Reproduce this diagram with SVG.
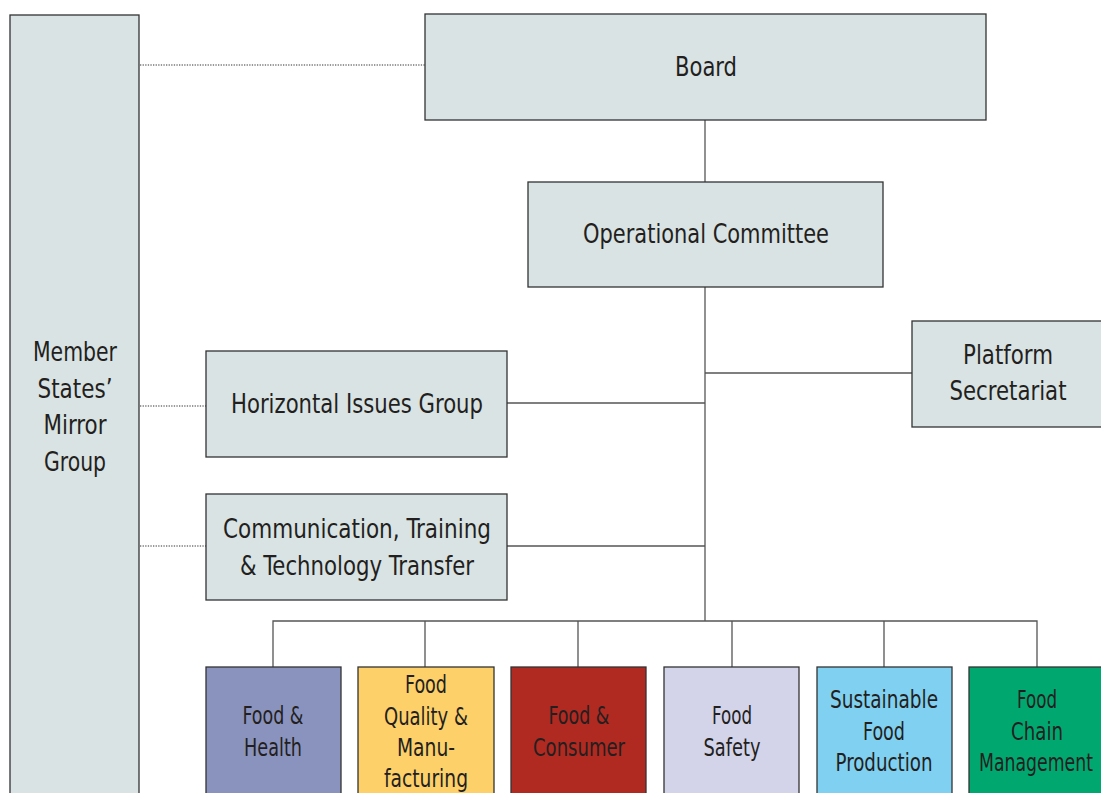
<svg xmlns="http://www.w3.org/2000/svg" width="1101" height="793" viewBox="0 0 1101 793">
<style>
.box{stroke:#333;stroke-width:1.3}
.grey{fill:#d9e3e3}
.t{font-family:"DejaVu Sans Condensed","Liberation Sans Narrow","Liberation Sans",sans-serif;fill:#231f20;text-anchor:middle;dominant-baseline:central}
.big{font-size:27px}
.sm{font-size:24px}
.ln{stroke:#555;stroke-width:1.3;fill:none}
.dot{stroke:#777;stroke-width:1.3;stroke-dasharray:1.3 1.3;fill:none}
</style>
<rect width="1101" height="793" fill="#fff"/>
<g id="connectors">
<line class="dot" x1="140" y1="65" x2="425" y2="65"/>
<line class="dot" x1="140" y1="406" x2="206" y2="406"/>
<line class="dot" x1="140" y1="546" x2="206" y2="546"/>
<line class="ln" x1="705" y1="120" x2="705" y2="182"/>
<line class="ln" x1="705" y1="287" x2="705" y2="621"/>
<line class="ln" x1="705" y1="373" x2="912" y2="373"/>
<line class="ln" x1="507" y1="403" x2="705" y2="403"/>
<line class="ln" x1="507" y1="546" x2="705" y2="546"/>
<path class="ln" d="M273 667V621H1037V667M425 621V667M578 621V667M732 621V667M884 621V667"/>
</g>
<g id="member-states">
<rect class="box grey" x="10" y="15" width="129" height="800"/>
<text class="t big" x="75" y="351" textLength="84" lengthAdjust="spacingAndGlyphs">Member</text>
<text class="t big" x="75" y="388" textLength="75" lengthAdjust="spacingAndGlyphs">States’</text>
<text class="t big" x="75" y="424" textLength="63" lengthAdjust="spacingAndGlyphs">Mirror</text>
<text class="t big" x="75" y="461" textLength="62" lengthAdjust="spacingAndGlyphs">Group</text>
</g>
<g id="board">
<rect class="box grey" x="425" y="14" width="561" height="106"/>
<text class="t big" x="706" y="66" textLength="62" lengthAdjust="spacingAndGlyphs">Board</text>
</g>
<g id="operational-committee">
<rect class="box grey" x="528" y="182" width="355" height="105"/>
<text class="t big" x="706" y="233" textLength="246" lengthAdjust="spacingAndGlyphs">Operational Committee</text>
</g>
<g id="platform-secretariat">
<rect class="box grey" x="912" y="321" width="200" height="106"/>
<text class="t big" x="1008" y="354" textLength="90" lengthAdjust="spacingAndGlyphs">Platform</text>
<text class="t big" x="1008" y="390" textLength="117" lengthAdjust="spacingAndGlyphs">Secretariat</text>
</g>
<g id="horizontal-issues">
<rect class="box grey" x="206" y="351" width="301" height="106"/>
<text class="t big" x="357" y="403" textLength="252" lengthAdjust="spacingAndGlyphs">Horizontal Issues Group</text>
</g>
<g id="communication">
<rect class="box grey" x="206" y="494" width="301" height="106"/>
<text class="t big" x="357" y="528" textLength="268" lengthAdjust="spacingAndGlyphs">Communication, Training</text>
<text class="t big" x="357" y="565" textLength="234" lengthAdjust="spacingAndGlyphs">&amp; Technology Transfer</text>
</g>
<g id="food-health">
<rect class="box" fill="#8a93bd" x="206" y="667" width="135" height="150"/>
<text class="t sm" x="273" y="716" textLength="61" lengthAdjust="spacingAndGlyphs">Food &amp;</text>
<text class="t sm" x="273" y="748" textLength="58" lengthAdjust="spacingAndGlyphs">Health</text>
</g>
<g id="food-quality">
<rect class="box" fill="#fdd06a" x="358" y="667" width="136" height="150"/>
<text class="t sm" x="426" y="685" textLength="42" lengthAdjust="spacingAndGlyphs">Food</text>
<text class="t sm" x="426" y="717" textLength="84" lengthAdjust="spacingAndGlyphs">Quality &amp;</text>
<text class="t sm" x="426" y="748" textLength="58" lengthAdjust="spacingAndGlyphs">Manu-</text>
<text class="t sm" x="426" y="779" textLength="84" lengthAdjust="spacingAndGlyphs">facturing</text>
</g>
<g id="food-consumer">
<rect class="box" fill="#b02a21" x="511" y="667" width="135" height="150"/>
<text class="t sm" x="579" y="716" textLength="61" lengthAdjust="spacingAndGlyphs">Food &amp;</text>
<text class="t sm" x="579" y="748" textLength="92" lengthAdjust="spacingAndGlyphs">Consumer</text>
</g>
<g id="food-safety">
<rect class="box" fill="#d3d4ea" x="664" y="667" width="135" height="150"/>
<text class="t sm" x="732" y="716" textLength="40" lengthAdjust="spacingAndGlyphs">Food</text>
<text class="t sm" x="732" y="748" textLength="57" lengthAdjust="spacingAndGlyphs">Safety</text>
</g>
<g id="sustainable-food">
<rect class="box" fill="#80d0f1" x="817" y="667" width="135" height="150"/>
<text class="t sm" x="884" y="700" textLength="108" lengthAdjust="spacingAndGlyphs">Sustainable</text>
<text class="t sm" x="884" y="732" textLength="42" lengthAdjust="spacingAndGlyphs">Food</text>
<text class="t sm" x="884" y="763" textLength="97" lengthAdjust="spacingAndGlyphs">Production</text>
</g>
<g id="food-chain">
<rect class="box" fill="#00a870" x="969" y="667" width="150" height="150"/>
<text class="t sm" x="1037" y="700" textLength="40" lengthAdjust="spacingAndGlyphs">Food</text>
<text class="t sm" x="1037" y="732" textLength="52" lengthAdjust="spacingAndGlyphs">Chain</text>
<text class="t sm" x="1036" y="763" textLength="114" lengthAdjust="spacingAndGlyphs">Management</text>
</g>
</svg>
